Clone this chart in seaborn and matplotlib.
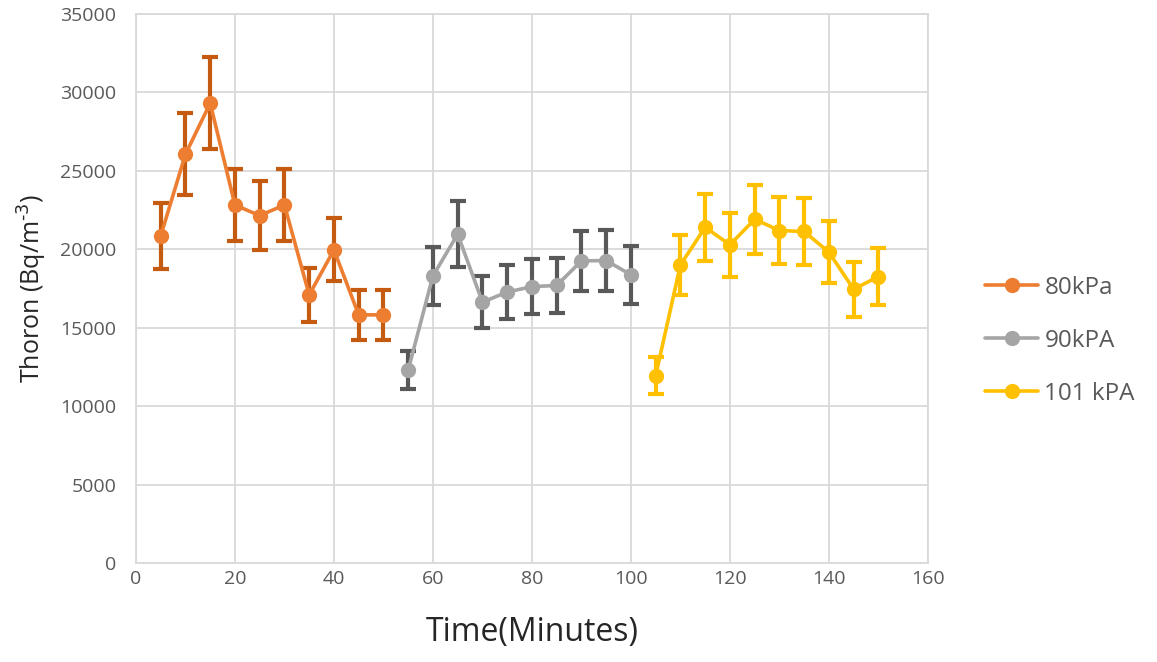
import numpy as np
import pandas as pd
import matplotlib
matplotlib.use("Agg")
import matplotlib.pyplot as plt
import seaborn as sns

# values
time_80 = [5, 10, 15, 20, 25, 30, 35, 40, 45, 50]
thoron_80 = [20860, 26060, 29310, 22830, 22150, 22830, 17100, 19970, 15830, 15830]
err_80 = [2090, 2610, 2930, 2280, 2220, 2280, 1710, 2000, 1580, 1580]

time_90 = [55, 60, 65, 70, 75, 80, 85, 90, 95, 100]
thoron_90 = [12320, 18310, 20970, 16640, 17280, 17630, 17700, 19270, 19290, 18380]
err_90 = [1230, 1830, 2100, 1660, 1730, 1760, 1770, 1930, 1930, 1840]

time_101 = [105, 110, 115, 120, 125, 130, 135, 140, 145, 150]
thoron_101 = [11960, 19010, 21410, 20290, 21920, 21200, 21140, 19820, 17460, 18270]
err_101 = [1200, 1900, 2140, 2030, 2190, 2120, 2110, 1980, 1750, 1830]

series_names = ["80kPa", "90kPA", "101 kPA"]
line_colors = ["#ED7D31", "#A5A5A5", "#FFC000"]
err_colors = ["#C55A11", "#595959", "#FFC000"]

df = pd.concat([
    pd.DataFrame({"time": time_80, "thoron": thoron_80, "err": err_80, "series": series_names[0]}),
    pd.DataFrame({"time": time_90, "thoron": thoron_90, "err": err_90, "series": series_names[1]}),
    pd.DataFrame({"time": time_101, "thoron": thoron_101, "err": err_101, "series": series_names[2]}),
])

sns.set_style("white")
plt.rcParams["font.family"] = ["Open Sans", "DejaVu Sans"]

fig = plt.figure(figsize=(11.57, 6.62), dpi=100)
ax = fig.add_axes([0.1175, 0.149, 0.6845, 0.830])

# error bars first so the line and markers sit on top
for name, ecol in zip(series_names, err_colors):
    sub = df[df["series"] == name]
    ax.errorbar(sub["time"], sub["thoron"], yerr=sub["err"], fmt="none",
                ecolor=ecol, elinewidth=3, capsize=5.5, capthick=3, zorder=2)

sns.lineplot(data=df, x="time", y="thoron", hue="series", palette=line_colors,
             hue_order=series_names, marker="o", markersize=11, markeredgewidth=0,
             linewidth=2.6, ax=ax, zorder=3, legend=True)

ax.set_xlim(0, 160)
ax.set_ylim(0, 35000)
ax.set_xticks(np.arange(0, 161, 20))
ax.set_yticks(np.arange(0, 35001, 5000))
ax.grid(True, color="#D9D9D9", linewidth=1.3)
for s in ax.spines.values():
    s.set_color("#D9D9D9")
    s.set_linewidth(1.3)
ax.tick_params(axis="both", length=0, labelsize=14, labelcolor="#595959")
ax.tick_params(axis="y", pad=14)
ax.tick_params(axis="x", pad=5)

ax.set_xlabel("Time(Minutes)", fontsize=23, color="#262626", labelpad=20)
ax.set_ylabel(r"Thoron (Bq/m$^{\text{-3}}$)", fontsize=18, color="#262626", labelpad=8)

handles, labels = ax.get_legend_handles_labels()
leg = ax.legend(handles, labels, loc="center left", bbox_to_anchor=(1.072, 0.405),
                frameon=False, fontsize=17.5, labelcolor="#595959",
                borderaxespad=0, borderpad=0,
                handlelength=2.2, labelspacing=1.2, handletextpad=0.25)

fig.savefig("out.png", dpi=100)
